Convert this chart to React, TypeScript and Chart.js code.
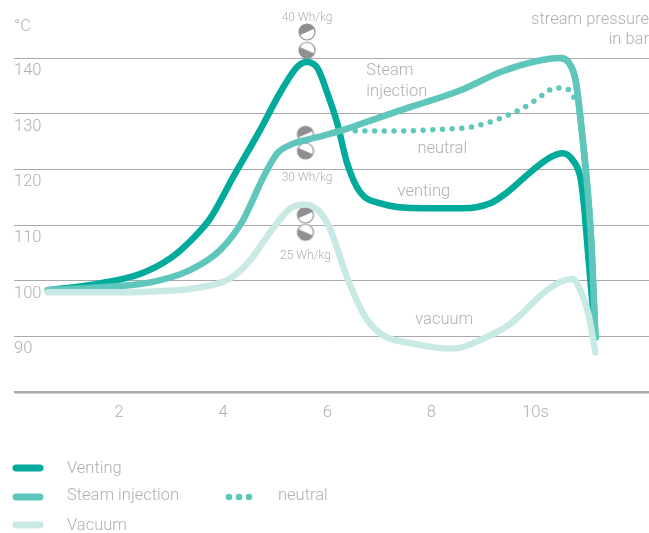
import React, { useEffect, useRef } from "react";
import { Chart, registerables } from "chart.js";

Chart.register(...registerables);

const ventingX = [0.65, 1.65, 2.42, 3.0, 3.48, 3.77, 4.21, 4.73, 5.12, 5.44, 5.63, 5.83, 6.02, 6.21, 6.4, 6.65, 7.04, 7.87, 8.63, 9.15, 9.48, 9.92, 10.31, 10.54, 10.73, 10.88, 10.94, 11.04, 11.17];
const ventingY = [98.3, 99.5, 101.2, 104.0, 108.0, 111.2, 118.6, 127.1, 133.9, 138.4, 139.3, 138.2, 133.7, 128.3, 121.1, 115.9, 113.9, 113.0, 113.0, 113.9, 115.9, 119.5, 122.2, 122.9, 121.7, 118.6, 114.5, 103.7, 89.8];
const steamX = [0.65, 1.65, 2.62, 3.38, 3.96, 4.4, 4.79, 5.06, 5.31, 5.75, 6.27, 7.04, 7.42, 8.58, 9.35, 10.12, 10.5, 10.65, 10.79, 10.88, 11.02, 11.1, 11.17];
const steamY = [98.3, 98.8, 99.7, 101.9, 105.5, 110.9, 118.6, 122.9, 124.4, 125.6, 126.9, 129.4, 130.6, 134.2, 137.5, 139.6, 140.0, 139.3, 136.0, 129.4, 116.3, 105.5, 89.8];
const neutralX = [6.37, 6.65, 7.42, 8.19, 8.77, 9.35, 9.87, 10.21, 10.37, 10.58, 10.73, 10.79];
const neutralY = [127.1, 126.9, 126.9, 127.2, 127.6, 129.2, 131.5, 133.7, 134.6, 134.6, 133.5, 132.1];
const vacuumX = [0.65, 1.65, 2.81, 3.58, 4.15, 4.54, 4.92, 5.31, 5.6, 5.88, 6.08, 6.4, 6.71, 7.04, 7.67, 8.44, 9.02, 9.54, 10.31, 10.73, 10.88, 11.04, 11.13, 11.17];
const vacuumY = [97.9, 97.9, 98.1, 98.8, 100.4, 103.7, 108.7, 113.0, 113.7, 112.3, 109.1, 100.6, 94.1, 90.5, 88.7, 87.8, 89.6, 92.3, 98.8, 100.3, 98.3, 93.8, 89.3, 87.1];

const tempTicks = [90, 100, 110, 120, 130, 140];
const tempTickLabels = ["90", "100", "110", "120", "130", "140"];
const pressureLabels = ["0.1", "1.3", "2.1", "2.8"];
const pressureAt = [97.8, 117.7, 132.6, 137.7];
const timeTicks = [2, 4, 6, 8, 10];

const iconX = [5.63, 5.63, 5.6, 5.6, 5.6, 5.6];
const iconY = [144.7, 141.4, 126.3, 123.3, 111.8, 108.7];

const noteTexts = ["Steam", "injection", "neutral", "venting", "vacuum"];
const noteX = [6.77, 6.77, 7.75, 7.37, 7.71];
const noteY = [137.8, 134.1, 123.8, 116.1, 93.1];
const energyTexts = ["40 Wh/kg", "30 Wh/kg", "25 Wh/kg"];
const energyX = [5.63, 5.63, 5.6];
const energyY = [147.4, 118.6, 104.6];

const VENT = "#00ab9c";
const STEAM = "#5fc6bb";
const VAC = "#c9e9e5";
const TEXT = "#b0b0b0";
const GRID = "#a9a9a9";
const ICON = "#8f8f92";
const FAMILY = "Roboto, 'Liberation Sans', sans-serif";
const pts = (xs: number[], ys: number[]) => xs.map((x, i) => ({ x, y: ys[i] }));

function makeIcon(top: boolean) {
  const c = document.createElement("canvas");
  c.width = 20;
  c.height = 20;
  const g = c.getContext("2d")!;
  const r = 8;
  g.save();
  g.translate(10, 10);
  g.beginPath();
  g.arc(0, 0, r, 0, Math.PI * 2);
  g.fillStyle = "#ffffff";
  g.fill();
  g.clip();
  g.rotate(top ? -0.42 : 0.42);
  g.fillStyle = ICON;
  if (top) g.fillRect(-12, -12, 24, 12);
  else g.fillRect(-12, 0, 24, 12);
  g.restore();
  g.beginPath();
  g.arc(10, 10, r, 0, Math.PI * 2);
  g.strokeStyle = ICON;
  g.lineWidth = 1.2;
  g.stroke();
  return c;
}

const zeroPadding = (s: any) => {
  s.paddingLeft = 0;
  s.paddingRight = 0;
  s.paddingTop = 0;
  s.paddingBottom = 0;
};

const textPlugin = {
  id: "chartText",
  afterDatasetsDraw(chart: any) {
    const { ctx, scales } = chart;
    const x = scales.x;
    const y = scales.y;
    ctx.save();
    ctx.textBaseline = "middle";
    ctx.fillStyle = TEXT;
    ctx.font = `300 16.5px ${FAMILY}`;
    ctx.textAlign = "left";
    noteTexts.forEach((t, i) => ctx.fillText(t, x.getPixelForValue(noteX[i]), y.getPixelForValue(noteY[i]) + 1));
    ctx.fillText("°C", 14, 27);
    ctx.textAlign = "right";
    ctx.fillText("stream pressure", 649, 20);
    ctx.fillText("in bar", 649, 40);
    ctx.textAlign = "center";
    ctx.font = `300 12px ${FAMILY}`;
    energyTexts.forEach((t, i) => ctx.fillText(t, x.getPixelForValue(energyX[i]), y.getPixelForValue(energyY[i]) + 1));

    // legend
    ctx.lineCap = "round";
    ctx.lineWidth = 7;
    [[VENT, 468], [STEAM, 497], [VAC, 525]].forEach(([col, ly]: any) => {
      ctx.strokeStyle = col;
      ctx.beginPath();
      ctx.moveTo(16, ly);
      ctx.lineTo(40, ly);
      ctx.stroke();
    });
    ctx.fillStyle = STEAM;
    [229, 239, 249].forEach((dx) => {
      ctx.beginPath();
      ctx.arc(dx, 497, 3.3, 0, Math.PI * 2);
      ctx.fill();
    });
    ctx.fillStyle = TEXT;
    ctx.font = `300 16.5px ${FAMILY}`;
    ctx.textAlign = "left";
    ctx.fillText("Venting", 67, 469);
    ctx.fillText("Steam injection", 67, 496);
    ctx.fillText("Vacuum", 67, 526);
    ctx.fillText("neutral", 278, 496);
    ctx.restore();
  },
};

export default function App() {
  const ref = useRef<HTMLCanvasElement>(null);
  useEffect(() => {
    const line = (label: string, xs: number[], ys: number[], color: string) => ({
      label,
      data: pts(xs, ys),
      borderColor: color,
      borderWidth: 6.5,
      pointRadius: 0,
      cubicInterpolationMode: "monotone" as const,
      borderCapStyle: "round" as const,
      borderJoinStyle: "round" as const,
      clip: false as any,
    });
    const font = { family: FAMILY, size: 16.5, weight: 300 as any };
    const tailStart = steamX.indexOf(10.5);
    const chart = new Chart(ref.current!, {
      type: "line",
      plugins: [textPlugin],
      data: {
        datasets: [
          line("Vacuum", vacuumX, vacuumY, VAC),
          line("Steam injection", steamX, steamY, STEAM),
          {
            ...line("neutral", neutralX, neutralY, STEAM),
            borderWidth: 5.5,
            borderDash: [0, 9.7],
          },
          line("Venting", ventingX, ventingY, VENT),
          // the steam curve's fall passes in front of venting
          line("Steam injection fall", steamX.slice(tailStart), steamY.slice(tailStart), STEAM),
          {
            label: "icons",
            data: pts(iconX, iconY),
            showLine: false,
            pointRadius: 10,
            pointStyle: [makeIcon(true), makeIcon(false), makeIcon(true), makeIcon(false), makeIcon(true), makeIcon(false)] as any,
          },
        ],
      },
      options: {
        animation: false,
        responsive: false,
        devicePixelRatio: 1,
        layout: { autoPadding: false, padding: { left: 14, top: 2.4, right: 0, bottom: 0 } },
        plugins: { legend: { display: false }, tooltip: { enabled: false } },
        scales: {
          x: {
            type: "linear",
            min: 0,
            max: 12.2,
            afterBuildTicks: (s: any) => {
              s.ticks = timeTicks.map((value) => ({ value }));
            },
            afterFit: (s: any) => {
              s.height = 141;
              zeroPadding(s);
            },
            grid: { display: false },
            border: { display: false },
            ticks: {
              padding: 3,
              labelOffset: 1,
              maxRotation: 0,
              autoSkip: false,
              color: TEXT,
              font,
              callback: (v: any) => (v === 10 ? "10s" : String(v)),
            },
          },
          y: {
            type: "linear",
            position: "left",
            min: 80,
            max: 150,
            afterBuildTicks: (s: any) => {
              s.ticks = [80, ...tempTicks].map((value) => ({ value }));
            },
            afterFit: (s: any) => {
              s.width = 0;
              zeroPadding(s);
            },
            border: { display: false },
            grid: {
              drawTicks: false,
              color: GRID,
              lineWidth: (c: any) => (c.tick && c.tick.value === 80 ? 2.5 : 1),
            },
            ticks: {
              mirror: true,
              padding: 0,
              labelOffset: 13,
              autoSkip: false,
              color: TEXT,
              font,
              callback: (v: any) => (tempTicks.includes(v) ? tempTickLabels[tempTicks.indexOf(v)] : ""),
            },
          },
          y2: {
            type: "linear",
            position: "right",
            min: 80,
            max: 150,
            afterBuildTicks: (s: any) => {
              s.ticks = pressureAt.map((value) => ({ value }));
            },
            afterFit: (s: any) => {
              s.width = 0;
              zeroPadding(s);
            },
            border: { display: false },
            grid: { display: false, drawTicks: false },
            ticks: {
              mirror: true,
              padding: 33,
              labelOffset: 3,
              autoSkip: false,
              color: TEXT,
              font,
              callback: (v: any) => pressureLabels[pressureAt.indexOf(v)] ?? "",
            },
          },
        },
      },
    });
    return () => chart.destroy();
  }, []);
  return (
    <canvas
      ref={ref}
      width={649}
      height={533}
      style={{ position: "absolute", left: 0, top: 0, width: 649, height: 533 }}
    />
  );
}
